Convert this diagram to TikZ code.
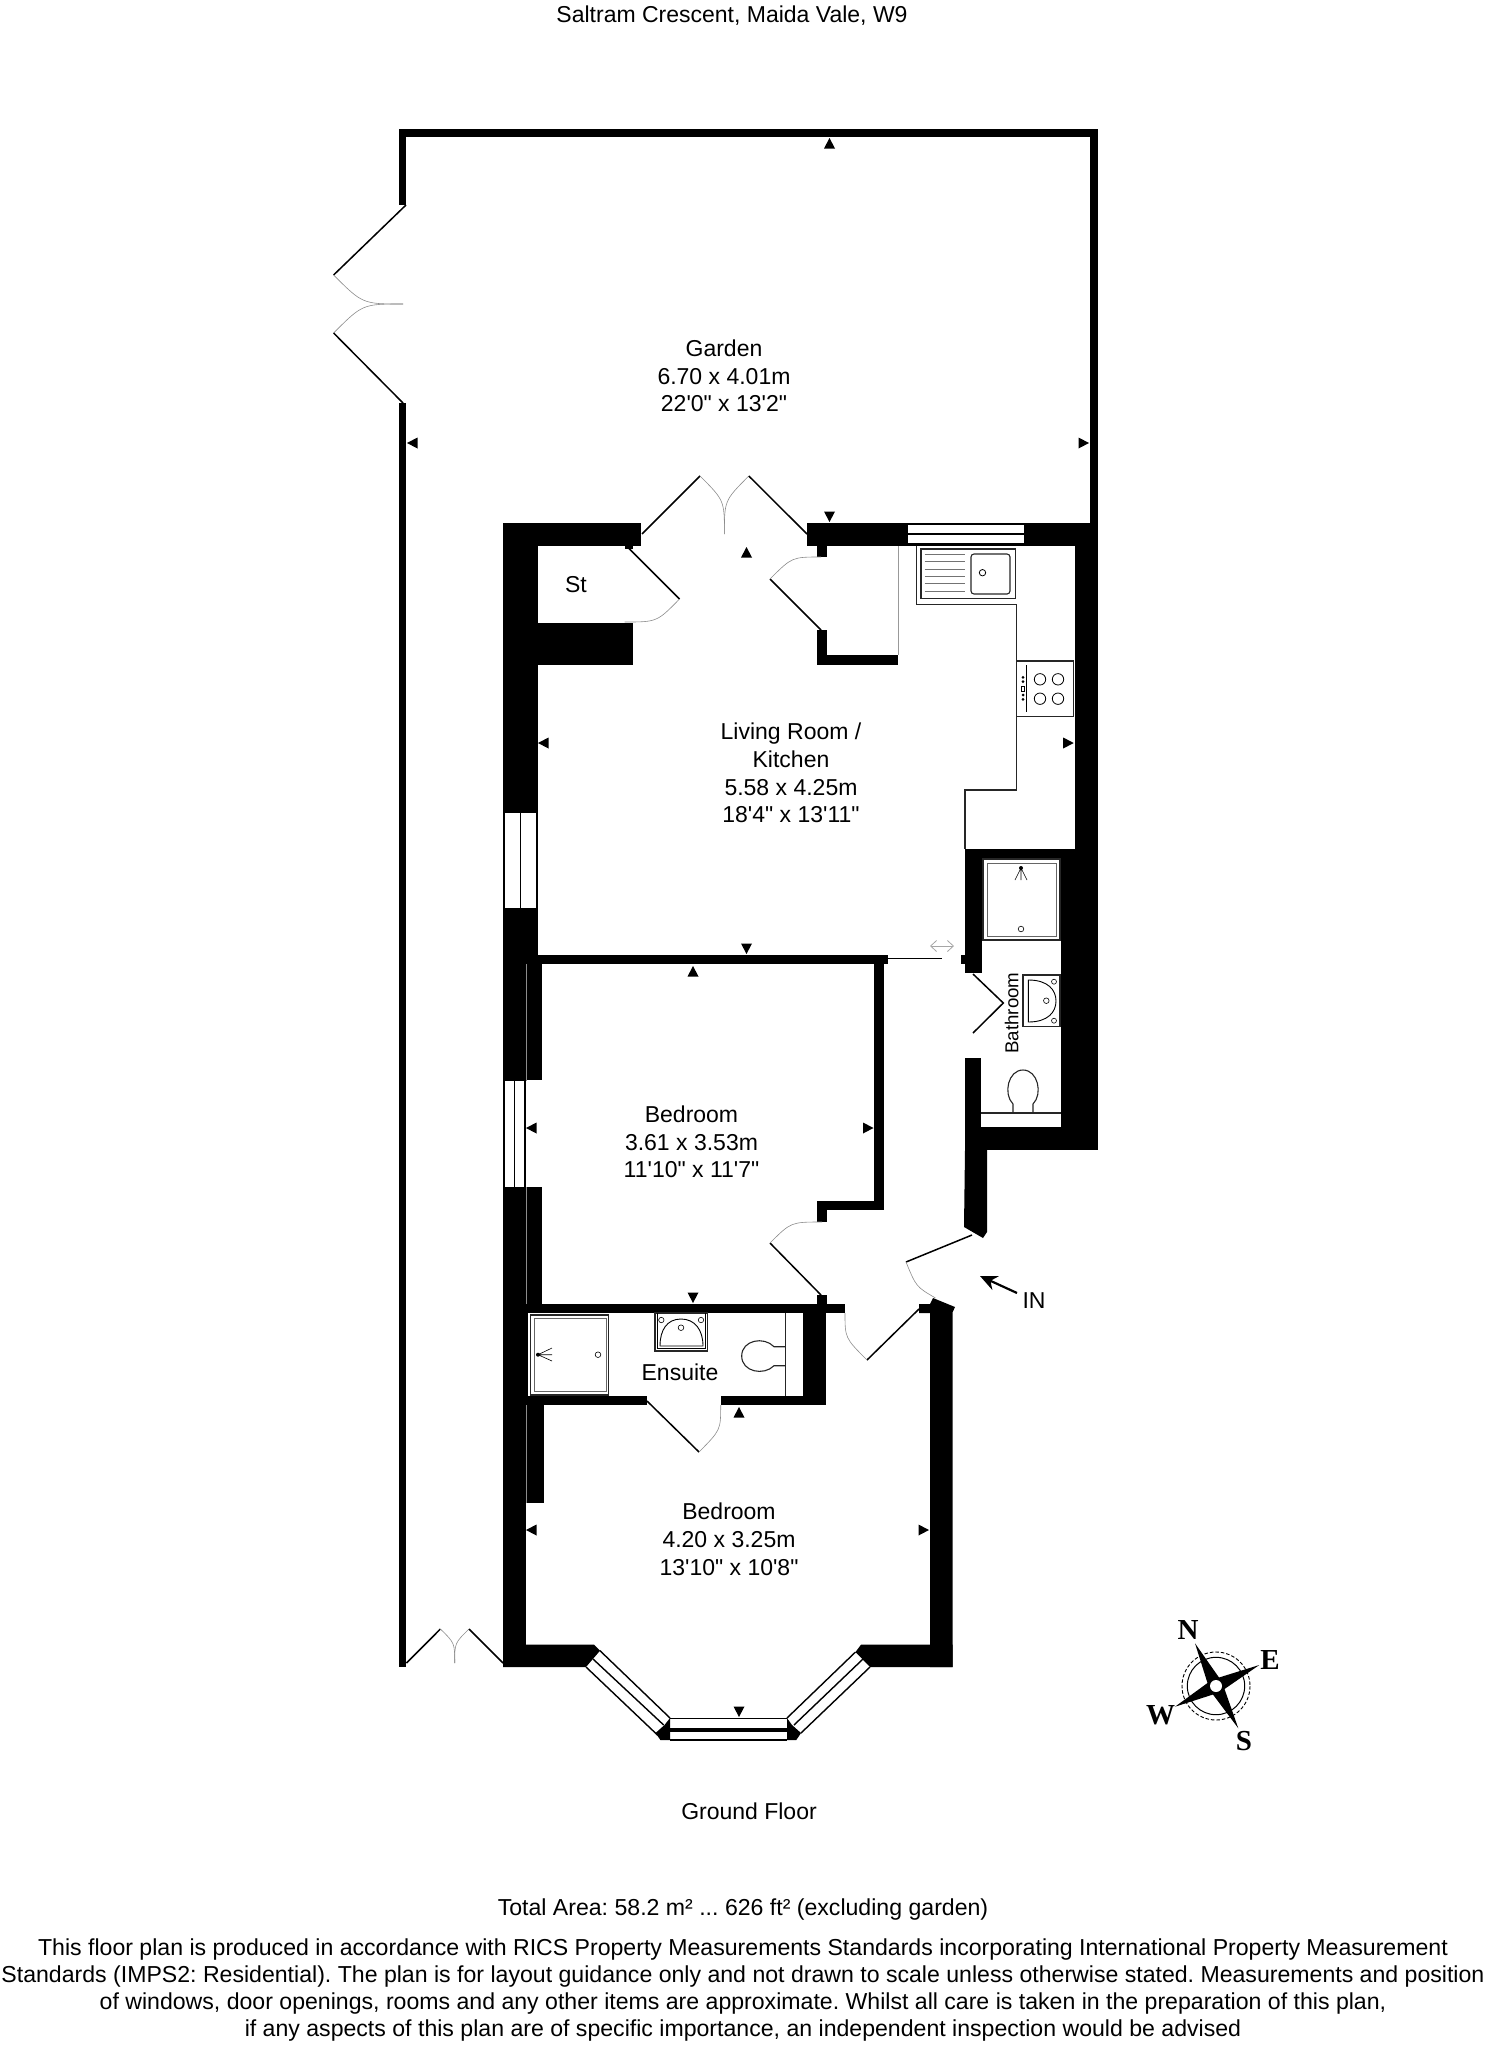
\documentclass[tikz,border=0pt]{standalone}
\usepackage{fontspec}
\usetikzlibrary{arrows.meta}
\newfontfamily\planfont{Liberation Sans}
\newfontfamily\compassfont{Liberation Serif}
\frenchspacing
\def\swing(#1)(#2)(#3){\draw[doorarc] (#1) .. controls (#2) .. (#3);}
\def\markup(#1,#2){\fill ({#1-5.5},{#2+10.5}) -- ({#1+5.5},{#2+10.5}) -- (#1,#2) -- cycle;}
\def\markdown(#1,#2){\fill ({#1-5.5},{#2-10.5}) -- ({#1+5.5},{#2-10.5}) -- (#1,#2) -- cycle;}
\def\markleft(#1,#2){\fill ({#1+10.5},{#2-5.5}) -- ({#1+10.5},{#2+5.5}) -- (#1,#2) -- cycle;}
\def\markright(#1,#2){\fill ({#1-10.5},{#2-5.5}) -- ({#1-10.5},{#2+5.5}) -- (#1,#2) -- cycle;}
\tikzset{
	wall/.style={fill=black},
	doorleaf/.style={line width=1.5pt},
	doorarc/.style={line width=0.6pt,color=black!45},
	fitting/.style={line width=1.1pt,color=black!85},
	seam/.style={line width=0.5pt,color=black!45},
	label/.style={font=\planfont\fontsize{23}{27.7}\selectfont,align=center,inner sep=0pt},
	notetext/.style={font=\planfont\fontsize{23.1}{27.3}\selectfont,align=center,inner sep=0pt},
	compass/.style={font=\compassfont\bfseries\fontsize{29}{29}\selectfont,inner sep=0pt},
}

\begin{document}
\begin{tikzpicture}[x=1pt,y=-1pt]
			%%%%% START %%%%%
			\useasboundingbox (0,0) rectangle (1486,2048);
			
			\node[label] (title) at (732,16) {Saltram Crescent, Maida Vale, W9};
			
			% garden walls
			\fill[wall] (399,129) rectangle (1098,137);
			\fill[wall] (399,129) rectangle (406,205);
			\fill[wall] (399,403) rectangle (406,1667);
			\fill[wall] (1090,129) rectangle (1098,523);
			
			% house walls
			\fill[wall] (503,523) rectangle (537.8,964);
			\fill[wall] (503,523) rectangle (641.4,546);
			\fill[wall] (624.5,546) rectangle (633.4,549);
			\fill[wall] (503,623) rectangle (633.4,665);
			\fill[wall] (806.8,523) rectangle (1098,546);
			\fill[wall] (816.7,546) rectangle (826.7,557);
			\fill[wall] (816.7,630) rectangle (826.7,665);
			\fill[wall] (816.7,655) rectangle (898.4,665);
			\fill[wall] (1074.7,546) rectangle (1098,849);
			\fill[wall] (1060.8,849) rectangle (1098,1150);
			\fill[wall] (965,1127) rectangle (1098,1150);
			\fill[wall] (965,849) rectangle (1074.7,858);
			\fill[wall] (965,849) rectangle (982,973);
			\fill[wall] (961,955) rectangle (965,964);
			\fill[wall] (965,1058) rectangle (981,1150);
			\fill[wall] (965,1150) -- (987,1150) -- (987,1232) -- (983,1238) -- (964,1227) -- cycle;
			
			\fill[wall] (537.8,955) rectangle (887.5,964);
			\fill[wall] (503,964) rectangle (526,1667);
			\fill[wall] (526,964) rectangle (542,1080);
			\fill[wall] (526,1187) rectangle (542,1313);
			\fill[wall] (526,1304) rectangle (845,1313);
			\fill[wall] (816.7,1295) rectangle (826.7,1304);
			\fill[wall] (803,1313) rectangle (826,1405);
			\fill[wall] (720.7,1396) rectangle (826,1405);
			\fill[wall] (526,1313) rectangle (528,1405);
			\fill[wall] (526,1396) rectangle (647,1405);
			\fill[wall] (526,1405) rectangle (544,1503);
			\fill[wall] (874,964) rectangle (883.5,1210);
			\fill[wall] (816.7,1200.7) rectangle (883.5,1210);
			\fill[wall] (816.7,1200.7) rectangle (826.7,1222);
			\draw[seam] (526,964) -- (526,1081);
			\draw[seam] (526,1187) -- (526,1304);
			\draw[seam] (526,1405) -- (526,1503);
			
			\fill[wall] (930,1313) -- (919,1313) -- (919,1304) -- (930,1304) -- (933,1298) -- (955,1307) -- (952.7,1312) -- (952.7,1667) -- (930,1667) -- cycle;
			\fill[wall] (503,1644.7) -- (594,1644.7) -- (600,1650.7) -- (586,1667) -- (503,1667) -- cycle;
			\fill[wall] (952.7,1644.7) -- (861,1644.7) -- (855.5,1652) -- (870,1667) -- (952.7,1667) -- cycle;
			\fill[wall] (670,1718) -- (670,1740) -- (660.4,1740) -- (655.5,1733) -- (664.5,1725) -- cycle;
			\fill[wall] (787,1718) -- (787,1740) -- (796.3,1740) -- (801,1733) -- (792,1725) -- cycle;
			
			% windows
			\fill[white] (908,525) rectangle (1023.5,543.3);
			\draw[line width=1.6pt] (908,534) -- (1023.5,534);
			\fill[white] (504.6,812.7) rectangle (536,908);
			\draw[line width=1.6pt] (520.5,812.7) -- (520.5,908);
			\fill[white] (504.6,1081) rectangle (524.4,1187);
			\draw[line width=1.6pt] (514.4,1081) -- (514.4,1187);
			
			\draw[line width=1.4pt] (600,1650.7) -- (670,1718);
			\draw[line width=1.4pt] (593,1659) -- (663.7,1725);
			\draw[line width=1.4pt] (586,1667) -- (657.5,1735);
			\draw[line width=1.4pt] (787,1718) -- (855.5,1652);
			\draw[line width=1.4pt] (794,1725) -- (863,1659);
			\draw[line width=1.4pt] (801,1733) -- (870,1667);
			\draw[line width=1.4pt] (670,1718.5) -- (787,1718.5);
			\draw[line width=1.4pt] (670,1729) -- (787,1729);
			\draw[line width=1.4pt] (670,1731) -- (787,1731);
			\draw[line width=2pt] (670,1739.5) -- (787,1739.5);
			
			% doors
			\draw[doorleaf] (406,205) -- (333.6,275);
			\swing(333.6,275)(362.6,304)(403,304);
			\swing(403,304)(362.6,304)(333.6,333);
			\draw[doorleaf] (333.6,333) -- (403,403);
			
			\draw[doorleaf] (642,534) -- (700,476);
			\swing(700,476)(724.4,500.4)(724.4,534);
			\swing(724.4,534)(724.4,500.4)(748.8,476);
			\draw[doorleaf] (748.8,476) -- (807,534);
			
			\draw[doorleaf] (628.5,548) -- (679.5,599);
			\swing(679.5,599)(657,622)(624.5,622);
			\draw[doorleaf] (821,630) -- (770,579);
			\swing(770,579)(792,557)(821,557);
			\draw[doorleaf] (821,1295) -- (770,1243);
			\swing(770,1243)(791,1222)(822,1222);
			\draw[doorleaf] (919,1309) -- (867,1360);
			\swing(867,1360)(845,1338)(845,1313);
			\draw[doorleaf] (972,1235) -- (906,1262);
			\swing(906,1262)(916.2,1286.8)(935.5,1298);
			\draw[doorleaf] (647,1401) -- (699,1452);
			\swing(699,1452)(720.7,1430)(720.7,1405);
			\draw[doorleaf] (973,974) -- (1003.3,1003) -- (973,1033);
			\draw[doorleaf] (406.5,1663) -- (440.4,1629);
			\swing(440.4,1629)(454.7,1643)(454.7,1663);
			\swing(454.7,1663)(454.7,1643)(469,1629);
			\draw[doorleaf] (469,1629) -- (503,1663);
			
			% sliding door
			\draw[line width=1.2pt] (887.5,958.7) -- (942,958.7);
			\draw[{Straight Barb[length=6pt,width=11pt]}-{Straight Barb[length=6pt,width=11pt]},line width=0.8pt,color=black!35] (930,946) -- (954,946);
			
			% kitchen
			\draw[line width=0.6pt,color=black!40] (898,546) -- (898,655);
			\draw[fitting] (916.8,546) -- (916.8,604.7) -- (1016.5,604.7) -- (1016.5,790) -- (965,790) -- (965,849);
			\draw[fitting] (921,549) rectangle (1015.7,598.7);
			\draw[fitting,rounded corners=3pt] (971,554) rectangle (1010,594);
			\draw[line width=0.8pt] (982.5,572.7) circle (3.2);
			\foreach \ypos in {554,561.3,569,576.3,583.7,591}
				\draw[line width=0.9pt,color=black!55] (924.7,\ypos) -- (965,\ypos);
			
			\draw[fitting] (1016.5,661) rectangle (1073.7,716.7);
			\draw[line width=0.9pt] (1026.3,665) -- (1026.3,712);
			\foreach \xpos in {1040,1058}
				\foreach \ypos in {679.3,698.7}
					\draw[line width=0.8pt] (\xpos,\ypos) circle (5.7);
			\foreach \ypos in {677.3,681.7,695,699.3}
				\fill (1023,\ypos) circle (1.5);
			\draw[line width=0.5pt] (1021.5,686) rectangle (1024.5,691);
			
			% bathroom
			\draw[fitting] (983,859) rectangle (1060,940);
			\draw[line width=0.9pt,color=black!60] (987,863) rectangle (1056,936);
			\fill (1021,868) circle (2);
			\draw[line width=0.6pt] (1021,868) -- (1015,880) (1021,868) -- (1021,880) (1021,868) -- (1027,880);
			\draw[line width=0.6pt] (1021,929) circle (2.8);
			
			\draw[fitting] (1023,975) rectangle (1060,1026.7);
			\draw[line width=0.9pt] (1028.4,980) .. controls (1048,980) and (1056,990) .. (1056,1001) .. controls (1056,1012) and (1048,1022) .. (1028.4,1022) -- cycle;
			\draw[line width=0.6pt,fill=white] (1054,981.7) circle (2.5);
			\draw[line width=0.6pt,fill=white] (1054,1020.7) circle (2.5);
			\draw[line width=0.6pt] (1046.3,1000.7) circle (2.8);
			
			\draw[fitting] (1013,1113) -- (1013,1104) .. controls (1003,1094) and (1008,1070) .. (1023,1070) .. controls (1038,1070) and (1043,1094) .. (1033,1104) -- (1033,1113);
			\draw[fitting] (981,1113) -- (1061,1113);
			
			\node[label,font=\planfont\fontsize{18.7}{20}\selectfont,rotate=90] (bathroomlabel) at (1011.6,1013) {Bathroom};
			
			% ensuite
			\draw[fitting] (530.7,1315) rectangle (608.7,1395);
			\draw[line width=0.9pt,color=black!60] (534,1318) rectangle (606,1391.7);
			\fill (538,1354.7) circle (2);
			\draw[line width=0.6pt] (538,1354.7) -- (552,1348) (538,1354.7) -- (552,1354.7) (538,1354.7) -- (552,1361);
			\draw[line width=0.6pt] (598,1354.7) circle (2.8);
			
			\draw[fitting] (655,1313) rectangle (707.7,1351);
			\draw[line width=0.6pt] (657,1313) -- (657,1348) -- (705.5,1348) -- (705.5,1313);
			\draw[line width=0.9pt] (660,1346) -- (703,1346) .. controls (703,1330) and (695,1319) .. (681,1319) .. controls (667,1319) and (660,1330) .. (660,1346) -- cycle;
			\draw[line width=0.6pt,fill=white] (661.3,1320) circle (2.7);
			\draw[line width=0.6pt,fill=white] (701,1320) circle (2.7);
			\draw[line width=0.6pt] (681,1327.7) circle (2.8);
			
			\draw[fitting] (785.7,1346.7) -- (774,1346.7) .. controls (764,1336) and (741.7,1340) .. (741.7,1356) .. controls (741.7,1372) and (764,1376) .. (774,1365.7) -- (785.7,1365.7);
			\draw[fitting] (785.7,1313) -- (785.7,1396);
			
			\node[label] (ensuitelabel) at (680,1372.7) {Ensuite};
			
			% dimension marks
			\markup(829.5,138)
			\markleft(407,443)
			\markright(1089,443)
			\markdown(829.5,522)
			\markup(746.5,547)
			\markleft(538,743)
			\markright(1073.7,743)
			\markdown(746.5,954)
			\markup(693,966)
			\markleft(526,1128)
			\markright(873.5,1128)
			\markdown(693,1303)
			\markup(739,1407)
			\markleft(526,1530)
			\markright(929,1530)
			\markdown(739,1717)
			
			% room labels
			\node[label] (gardenlabel) at (724,376) {Garden\\6.70 x 4.01m\\22'0" x 13'2"};
			\node[label] (storelabel) at (576,585) {St};
			\node[label] (livinglabel) at (791,773) {Living Room /\\Kitchen\\5.58 x 4.25m\\18'4" x 13'11"};
			\node[label] (bedroomonelabel) at (691.5,1142) {Bedroom\\3.61 x 3.53m\\11'10" x 11'7"};
			\node[label] (bedroomtwolabel) at (729,1539.3) {Bedroom\\4.20 x 3.25m\\13'10" x 10'8"};
			
			\node[label] (inlabel) at (1034,1301) {IN};
			\coordinate (inend) at (1017,1293);
			\draw[-{Stealth[length=17pt,width=15pt]},line width=2.2pt] (inend) -- (980,1276);
			
			% compass
			\draw[line width=0.9pt,dash pattern=on 3.5pt off 2pt] (1216,1686) circle (34);
			\draw[line width=1pt] (1216,1686) circle (28.7);
			\fill (1195,1643.3) -- (1219,1677.5) -- (1259.3,1665) -- (1224.5,1689) -- (1238.3,1728.3) -- (1213,1694.5) -- (1175,1706.7) -- (1207.5,1683) -- cycle;
			\fill[white] (1216,1686) circle (6);
			\node[compass] (northlabel) at (1188,1630) {N};
			\node[compass] (eastlabel) at (1270,1660) {E};
			\node[compass] (southlabel) at (1244,1740.7) {S};
			\node[compass] (westlabel) at (1160.7,1715) {W};
			
			% texts below the plan
			\node[label] (floorlabel) at (749,1811) {Ground Floor};
			\node[notetext] (arealabel) at (743,1910) {Total Area: 58.2 m² ... 626 ft² (excluding garden)};
			\node[notetext] (notelabel) at (743,1990) {This floor plan is produced in accordance with RICS Property Measurements Standards incorporating International Property Measurement\\Standards (IMPS2: Residential). The plan is for layout guidance only and not drawn to scale unless otherwise stated. Measurements and position\\of windows, door openings, rooms and any other items are approximate. Whilst all care is taken in the preparation of this plan,\\if any aspects of this plan are of specific importance, an independent inspection would be advised};
			
			%%%%% END %%%%%
		\end{tikzpicture}
\end{document}
